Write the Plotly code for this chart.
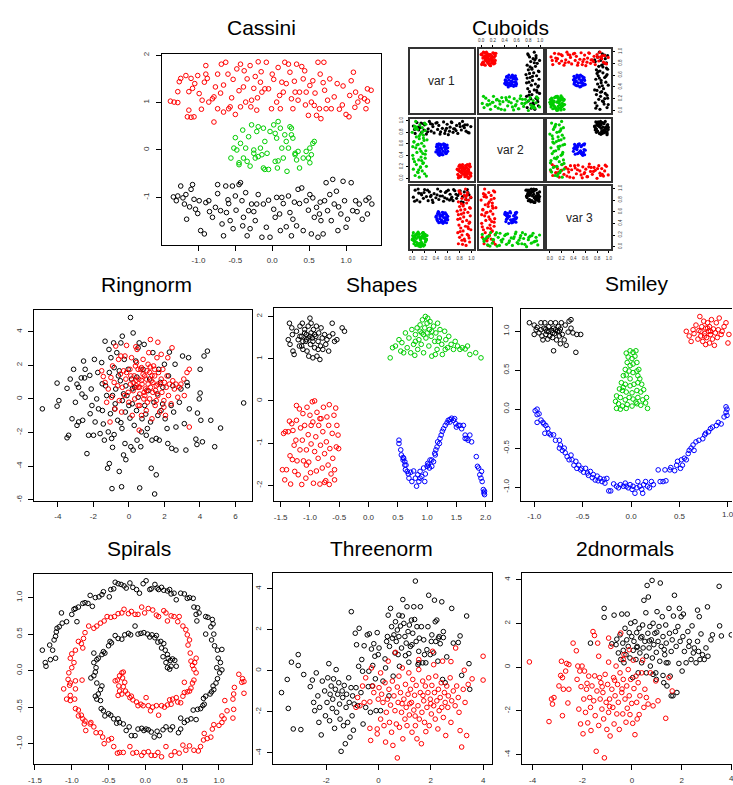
import plotly.graph_objects as go

W, H = 733, 785

# ----------------------------------------------------------------- data
cassini_black = [(-1.34,-0.99),(-1.30,-1.07),(-1.28,-0.97),(-1.24,-0.76),(-1.21,-1.01),(-1.19,-1.14),(-1.17,-0.94),(-1.16,-1.46),(-1.10,-0.83),(-1.08,-0.73),(-1.06,-1.04),(-1.04,-1.25),(-1.01,-1.34),(-0.99,-1.07),(-0.97,-1.70),(-0.92,-1.77),(-0.90,-1.11),(-0.86,-1.07),(-0.81,-1.42),(-0.77,-1.21),(-0.74,-0.73),(-0.74,-0.92),(-0.70,-1.28),(-0.68,-1.56),(-0.66,-1.81),(-0.63,-0.76),(-0.62,-1.32),(-0.59,-1.13),(-0.57,-1.49),(-0.54,-0.76),(-0.53,-1.66),(-0.50,-0.97),(-0.49,-1.27),(-0.45,-0.73),(-0.43,-0.69),(-0.41,-1.07),(-0.39,-1.42),(-0.36,-0.90),(-0.34,-1.81),(-0.32,-1.28),(-0.30,-1.66),(-0.28,-1.14),(-0.23,-1.49),(-0.21,-1.14),(-0.19,-0.94),(-0.14,-1.84),(-0.12,-1.14),(-0.08,-1.63),(-0.05,-1.06),(-0.03,-1.84),(0.02,-1.25),(0.04,-1.42),(0.06,-1.00),(0.11,-1.70),(0.13,-1.00),(0.15,-1.13),(0.19,-1.62),(0.22,-0.97),(0.24,-1.32),(0.26,-1.81),(0.28,-1.46),(0.33,-1.60),(0.35,-0.83),(0.37,-1.13),(0.40,-0.80),(0.42,-1.70),(0.46,-1.07),(0.49,-1.27),(0.51,-0.94),(0.53,-1.77),(0.55,-1.01),(0.57,-1.42),(0.60,-1.21),(0.62,-1.84),(0.64,-1.35),(0.66,-1.49),(0.69,-1.77),(0.71,-1.07),(0.73,-0.69),(0.75,-1.28),(0.78,-0.94),(0.80,-1.49),(0.82,-0.62),(0.84,-1.14),(0.87,-0.87),(0.89,-1.70),(0.93,-1.35),(0.96,-0.66),(0.98,-1.07),(1.00,-1.63),(1.02,-1.46),(1.07,-0.69),(1.09,-1.28),(1.13,-1.07),(1.18,-1.14),(1.22,-1.46),(1.27,-1.06),(1.29,-1.35),(1.31,-1.01),(1.35,-1.14),(-1.12,-1.20),(-0.85,-1.30),(-0.60,-1.05),(-0.25,-1.30),(0.10,-1.35),(0.30,-1.10),(0.65,-1.10),(0.90,-1.20),(1.15,-1.30),(-0.40,-1.60)]
cassini_red = [(-1.38,1.03),(-1.33,1.01),(-1.28,1.00),(-1.28,1.23),(-1.26,1.44),(-1.24,1.51),(-1.17,1.57),(-1.10,1.51),(-1.13,1.23),(-1.08,1.30),(-1.13,0.84),(-1.15,0.70),(-1.10,0.69),(-1.06,0.70),(-1.01,1.57),(-0.99,1.19),(-0.96,0.86),(-0.92,1.43),(-0.90,1.60),(-0.90,1.78),(-0.88,1.51),(-0.86,1.01),(-0.81,1.08),(-0.79,1.12),(-0.79,0.59),(-0.77,1.33),(-0.74,1.60),(-0.74,0.87),(-0.69,1.81),(-0.63,1.85),(-0.66,1.37),(-0.66,0.80),(-0.59,0.87),(-0.57,0.91),(-0.53,1.49),(-0.50,0.75),(-0.48,1.71),(-0.43,1.81),(-0.43,0.91),(-0.39,1.33),(-0.38,1.67),(-0.36,1.01),(-0.34,1.50),(-0.30,1.78),(-0.29,0.91),(-0.28,1.05),(-0.25,1.30),(-0.23,1.55),(-0.21,0.84),(-0.19,1.86),(-0.16,1.43),(-0.14,1.22),(-0.10,1.29),(-0.08,1.85),(-0.05,1.29),(-0.01,0.87),(0.02,1.49),(0.06,1.01),(0.08,1.74),(0.11,0.87),(0.13,1.43),(0.15,1.22),(0.17,1.85),(0.19,1.40),(0.22,1.81),(0.24,1.64),(0.26,1.08),(0.28,0.87),(0.31,1.22),(0.33,1.81),(0.37,1.22),(0.40,1.76),(0.42,1.50),(0.44,1.67),(0.46,1.22),(0.49,0.73),(0.51,1.36),(0.53,1.01),(0.55,1.46),(0.57,0.94),(0.60,0.73),(0.62,1.85),(0.64,0.87),(0.66,0.66),(0.69,1.42),(0.70,1.85),(0.71,1.26),(0.73,0.87),(0.78,1.50),(0.80,0.87),(0.84,1.12),(0.91,0.86),(0.96,1.35),(1.00,0.75),(1.04,0.70),(1.07,1.46),(1.10,1.64),(1.13,1.22),(1.16,1.01),(1.20,1.12),(1.25,1.08),(1.29,1.03),(1.27,0.87),(1.29,1.29),(1.34,1.26),(-1.05,1.40),(-0.95,1.05),(-0.70,1.20),(-0.60,1.60),(-0.45,1.25),(-0.20,1.10),(0.00,1.60),(0.10,1.15),(0.30,1.45),(0.45,0.95),(0.58,1.20),(0.65,1.60),(0.75,1.05),(0.88,1.40),(0.95,0.95),(1.05,1.15),(1.12,0.90),(0.35,1.05),(-0.15,1.65),(-0.55,1.10)]
cassini_green = [(-0.50,0.26),(-0.56,-0.17),(-0.52,0.04),(-0.48,0.00),(-0.43,0.14),(-0.40,0.42),(-0.39,-0.17),(-0.36,0.04),(-0.34,-0.24),(-0.32,0.28),(-0.30,-0.34),(-0.28,0.53),(-0.25,0.00),(-0.23,-0.17),(-0.21,0.39),(-0.19,0.49),(-0.16,0.04),(-0.14,-0.10),(-0.12,0.46),(-0.12,-0.38),(-0.10,0.18),(-0.07,-0.07),(-0.05,-0.41),(-0.03,0.39),(0.02,0.53),(0.04,-0.24),(0.06,0.25),(0.07,-0.38),(0.08,0.60),(0.11,0.46),(0.13,0.04),(0.15,-0.17),(0.17,0.32),(0.19,0.18),(0.20,-0.45),(0.22,0.04),(0.24,0.49),(0.26,0.32),(0.28,0.25),(0.31,-0.10),(0.33,-0.21),(0.35,-0.03),(0.37,-0.38),(0.42,-0.17),(0.46,-0.03),(0.49,-0.17),(0.51,0.04),(0.53,-0.10),(0.55,0.14),(0.57,0.18),(0.51,-0.27),(0.31,-0.07),(-0.25,-0.07),(-0.19,-0.14),(-0.10,-0.41),(0.26,0.46),(0.04,0.35),(0.08,-0.23),(-0.45,-0.27),(-0.45,-0.31)]

cub_black = [(0.02,0.91,0.85),(0.05,0.78,0.97),(0.08,0.97,0.80),(0.11,0.84,0.92),(0.13,0.88,0.77),(0.16,0.80,0.89),(0.19,0.95,0.83),(0.21,0.93,0.98),(0.24,0.77,0.86),(0.27,0.86,0.79),(0.29,0.99,0.94),(0.32,0.82,0.88),(0.35,0.90,0.76),(0.37,0.79,0.91),(0.40,0.96,0.84),(0.43,0.85,0.99),(0.45,0.92,0.81),(0.48,0.81,0.95),(0.51,0.87,0.87),(0.53,0.98,0.78),(0.56,0.83,0.93),(0.59,0.94,0.82),(0.61,0.76,0.97),(0.64,0.89,0.90),(0.67,0.97,0.85),(0.69,0.80,0.79),(0.72,0.86,0.96),(0.75,0.92,0.83),(0.77,0.78,0.88),(0.80,0.95,0.92),(0.83,0.84,0.77),(0.85,0.99,0.86),(0.88,0.88,0.94),(0.91,0.82,0.81),(0.93,0.93,0.98),(0.96,0.79,0.89),(0.99,0.90,0.84),(0.04,0.85,0.78),(0.15,0.96,0.91),(0.26,0.81,0.97),(0.34,0.94,0.80),(0.47,0.77,0.87),(0.58,0.87,0.95),(0.66,0.98,0.82),(0.74,0.83,0.90),(0.86,0.91,0.76),(0.94,0.80,0.93),(0.10,0.89,0.99),(0.31,0.95,0.86),(0.55,0.78,0.84),(0.70,0.86,0.98),(0.89,0.93,0.87),(0.20,0.84,0.93),(0.42,0.97,0.89),(0.63,0.82,0.80),(0.81,0.90,0.96)]
cub_red = [(0.91,0.12,0.02),(0.78,0.05,0.05),(0.97,0.21,0.08),(0.84,0.09,0.11),(0.88,0.17,0.13),(0.80,0.02,0.16),(0.95,0.14,0.19),(0.93,0.24,0.21),(0.77,0.07,0.24),(0.86,0.19,0.27),(0.99,0.04,0.29),(0.82,0.11,0.32),(0.90,0.22,0.35),(0.79,0.15,0.37),(0.96,0.01,0.40),(0.85,0.18,0.43),(0.92,0.08,0.45),(0.81,0.23,0.48),(0.87,0.13,0.51),(0.98,0.06,0.53),(0.83,0.20,0.56),(0.94,0.10,0.59),(0.76,0.16,0.61),(0.89,0.03,0.64),(0.97,0.25,0.67),(0.80,0.12,0.69),(0.86,0.07,0.72),(0.92,0.19,0.75),(0.78,0.14,0.77),(0.95,0.00,0.80),(0.84,0.22,0.83),(0.99,0.09,0.85),(0.88,0.17,0.88),(0.82,0.04,0.91),(0.93,0.13,0.93),(0.79,0.21,0.96),(0.90,0.06,0.99),(0.85,0.24,0.04),(0.96,0.11,0.15),(0.81,0.18,0.26),(0.94,0.02,0.34),(0.77,0.15,0.47),(0.87,0.08,0.58),(0.98,0.20,0.66),(0.83,0.12,0.74),(0.91,0.05,0.86),(0.80,0.23,0.94),(0.89,0.10,0.10),(0.95,0.16,0.31),(0.78,0.01,0.55),(0.86,0.19,0.70),(0.93,0.07,0.89),(0.84,0.14,0.20),(0.97,0.22,0.42),(0.82,0.03,0.63),(0.90,0.17,0.81)]
cub_green = [(0.12,0.02,0.21),(0.05,0.05,0.09),(0.21,0.08,0.14),(0.09,0.11,0.03),(0.17,0.13,0.18),(0.02,0.16,0.24),(0.14,0.19,0.06),(0.24,0.21,0.12),(0.07,0.24,0.20),(0.19,0.27,0.01),(0.04,0.29,0.16),(0.11,0.32,0.23),(0.22,0.35,0.08),(0.15,0.37,0.13),(0.01,0.40,0.19),(0.18,0.43,0.04),(0.08,0.45,0.22),(0.23,0.48,0.10),(0.13,0.51,0.15),(0.06,0.53,0.02),(0.20,0.56,0.17),(0.10,0.59,0.25),(0.16,0.61,0.07),(0.03,0.64,0.11),(0.25,0.67,0.19),(0.12,0.69,0.05),(0.07,0.72,0.14),(0.19,0.75,0.21),(0.14,0.77,0.00),(0.00,0.80,0.12),(0.22,0.83,0.18),(0.09,0.85,0.06),(0.17,0.88,0.23),(0.04,0.91,0.09),(0.13,0.93,0.16),(0.21,0.96,0.03),(0.06,0.99,0.20),(0.24,0.04,0.13),(0.11,0.15,0.01),(0.18,0.26,0.24),(0.02,0.34,0.11),(0.15,0.47,0.07),(0.08,0.58,0.22),(0.20,0.66,0.15),(0.12,0.74,0.04),(0.05,0.86,0.19),(0.23,0.94,0.10),(0.10,0.10,0.17),(0.16,0.31,0.02),(0.01,0.55,0.14),(0.19,0.70,0.24),(0.07,0.89,0.08),(0.14,0.20,0.12),(0.22,0.42,0.21),(0.03,0.63,0.05),(0.17,0.81,0.16)]
cub_blue = [(0.45,0.52,0.41),(0.58,0.44,0.55),(0.42,0.59,0.48),(0.51,0.41,0.59),(0.55,0.56,0.44),(0.47,0.48,0.52),(0.60,0.53,0.46),(0.43,0.45,0.57),(0.53,0.60,0.50),(0.49,0.42,0.43),(0.56,0.50,0.58),(0.41,0.55,0.53),(0.52,0.47,0.40),(0.59,0.58,0.49),(0.46,0.40,0.56),(0.54,0.54,0.42),(0.44,0.49,0.60),(0.57,0.43,0.47),(0.48,0.57,0.54),(0.50,0.51,0.45),(0.40,0.46,0.51),(0.55,0.59,0.57),(0.47,0.44,0.48),(0.58,0.52,0.41),(0.43,0.56,0.44),(0.52,0.41,0.55),(0.45,0.60,0.59),(0.60,0.47,0.52),(0.49,0.53,0.43),(0.56,0.45,0.50),(0.42,0.50,0.46),(0.53,0.58,0.58),(0.50,0.43,0.53),(0.57,0.55,0.47),(0.44,0.42,0.56),(0.48,0.59,0.42)]

ring_black = [(-4.87,-0.59),(-4.04,0.94),(-4.04,-0.43),(-3.94,-0.10),(-3.48,0.63),(-3.48,-2.31),(-3.39,-2.16),(-3.30,1.18),(-3.20,-1.18),(-3.11,1.76),(-3.01,-0.20),(-2.92,0.88),(-2.92,-1.57),(-2.83,0.69),(-2.83,-1.37),(-2.68,1.25),(-2.64,0.29),(-2.60,-1.27),(-2.55,2.25),(-2.49,1.25),(-2.46,1.76),(-2.46,0.10),(-2.36,-3.25),(-2.27,-2.16),(-2.18,-0.88),(-2.12,0.59),(-2.08,-0.39),(-1.99,-2.16),(-1.94,2.35),(-1.90,-1.37),(-1.81,0.00),(-1.75,1.57),(-1.71,-0.59),(-1.62,-2.06),(-1.53,2.16),(-1.49,-0.69),(-1.44,-1.49),(-1.38,-2.45),(-1.34,3.43),(-1.31,0.78),(-1.25,0.20),(-1.20,-4.12),(-1.16,-1.96),(-1.12,2.94),(-1.10,-3.84),(-1.10,1.57),(-1.04,-0.88),(-1.01,2.45),(-0.97,-2.35),(-0.95,-5.33),(-0.92,-2.88),(-0.92,0.20),(-0.86,3.33),(-0.83,1.86),(-0.83,-2.12),(-0.77,-0.29),(-0.74,0.59),(-0.68,2.75),(-0.63,-1.27),(-0.54,-4.31),(-0.54,1.67),(-0.48,1.08),(-0.45,3.33),(-0.45,-1.41),(-0.41,-5.22),(-0.39,-1.76),(-0.37,3.73),(-0.37,-0.10),(-0.30,-3.33),(-0.26,2.35),(-0.22,-2.65),(-0.20,-0.78),(-0.17,-3.61),(-0.17,0.78),(-0.11,0.20),(-0.04,1.76),(0.00,-0.39),(0.06,-1.14),(0.09,4.84),(0.11,-2.84),(0.15,1.18),(0.19,-0.29),(0.24,3.92),(0.24,-3.04),(0.30,-1.57),(0.33,0.69),(0.39,2.25),(0.43,-0.69),(0.46,-2.45),(0.52,3.04),(0.52,0.10),(0.58,3.33),(0.61,-5.29),(0.67,-2.84),(0.71,-1.96),(0.74,-1.18),(0.80,1.76),(0.86,3.24),(0.89,-0.39),(0.98,-2.16),(1.04,-1.76),(1.08,0.49),(1.17,1.18),(1.22,-1.37),(1.26,-4.12),(1.30,-2.45),(1.35,2.75),(1.41,-0.20),(1.45,-5.65),(1.54,-2.35),(1.54,-4.51),(1.63,-0.98),(1.68,1.76),(1.71,-2.45),(1.78,0.98),(1.81,-0.69),(1.91,0.69),(2.00,2.06),(2.04,-1.18),(2.15,-1.76),(2.19,-2.65),(2.23,1.37),(2.28,2.78),(2.38,-0.39),(2.41,-2.94),(2.47,0.78),(2.52,-0.78),(2.60,2.06),(2.65,-3.04),(2.65,-1.67),(2.84,-0.20),(2.93,0.59),(3.02,2.55),(3.12,-1.47),(3.21,-3.04),(3.27,0.98),(3.30,0.78),(3.36,2.45),(3.40,-0.59),(3.86,-0.84),(3.83,-2.71),(3.77,-2.39),(3.96,0.00),(4.01,1.76),(4.05,-1.27),(4.14,-2.55),(4.23,2.55),(4.42,2.84),(4.61,-1.27),(4.83,-2.84),(5.16,-1.73),(6.46,-0.24),(4.01,0.35),(-0.59,1.37),(-0.30,0.30),(0.45,1.30),(0.95,-0.90),(1.60,0.30),(-1.50,0.90),(-0.80,-0.60),(0.20,0.60),(1.90,-0.30),(-2.20,1.40)]
ring_red = [(-1.53,1.67),(-1.44,1.33),(-1.34,0.98),(-1.25,-0.20),(-1.16,0.59),(-1.06,-1.37),(-1.01,1.27),(-0.97,0.10),(-0.92,1.96),(-0.83,0.98),(-0.78,-0.59),(-0.74,3.14),(-0.63,0.78),(-0.58,2.35),(-0.54,-0.10),(-0.48,1.47),(-0.45,2.55),(-0.41,-0.78),(-0.37,0.69),(-0.30,1.67),(-0.26,0.20),(-0.22,2.55),(-0.17,1.18),(-0.13,3.18),(-0.04,0.39),(0.00,-0.20),(0.06,1.76),(0.09,0.88),(0.15,2.45),(0.19,-0.98),(0.24,0.49),(0.30,1.37),(0.33,0.00),(0.37,1.96),(0.43,0.78),(0.46,2.94),(0.52,-0.39),(0.56,1.18),(0.58,-1.86),(0.61,0.29),(0.67,1.76),(0.71,-0.98),(0.74,0.88),(0.80,2.35),(0.84,0.00),(0.89,1.37),(0.93,0.59),(0.98,-0.69),(1.02,1.67),(1.08,0.88),(1.12,2.75),(1.17,0.00),(1.21,3.53),(1.26,1.08),(1.30,-1.18),(1.35,0.39),(1.39,1.96),(1.45,1.37),(1.48,-0.39),(1.54,0.78),(1.58,2.45),(1.63,0.20),(1.67,1.57),(1.73,-0.78),(1.77,0.88),(1.82,2.65),(1.86,0.39),(1.91,1.76),(1.97,-0.10),(2.00,0.98),(2.06,-0.98),(2.10,0.69),(2.15,1.37),(2.19,2.45),(2.23,0.20),(2.28,0.88),(2.38,-0.29),(2.43,3.04),(2.47,1.08),(2.56,0.59),(2.65,0.88),(2.75,0.10),(2.84,0.69),(2.93,0.88),(3.09,1.18),(3.12,0.20),(3.27,1.57),(3.40,1.76),(3.40,-1.67),(1.63,3.37),(0.39,3.10),(0.52,1.76),(0.71,1.86),(0.80,1.47),(0.98,1.18),(1.17,1.57),(1.35,0.98),(0.52,0.69),(0.24,0.98),(-0.13,1.57),(0.86,0.39),(1.22,0.69),(1.63,0.88),(1.82,1.18),(1.45,1.76),(1.08,2.06),(0.43,2.16),(0.11,1.37),(0.61,-0.39),(1.04,-0.20),(1.54,-0.10),(1.97,-0.49),(0.70,1.10),(1.00,0.50),(1.30,1.40),(0.40,1.10),(0.90,0.20),(1.20,1.90),(0.60,0.70),(1.50,0.50)]

shapes_black = [(-1.35,1.84),(-1.37,1.45),(-1.34,1.34),(-1.31,1.73),(-1.30,1.57),(-1.29,1.18),(-1.27,1.10),(-1.23,1.65),(-1.20,1.45),(-1.18,1.30),(-1.17,1.77),(-1.14,1.53),(-1.13,1.84),(-1.12,1.22),(-1.09,1.69),(-1.07,1.41),(-1.06,1.57),(-1.05,1.18),(-1.03,1.77),(-1.02,1.06),(-1.00,1.96),(-0.99,1.34),(-0.98,1.61),(-0.98,1.84),(-0.96,1.49),(-0.95,1.02),(-0.94,1.69),(-0.92,1.26),(-0.90,1.53),(-0.89,1.77),(-0.88,1.06),(-0.86,1.41),(-0.85,1.61),(-0.83,0.98),(-0.82,1.30),(-0.81,1.73),(-0.79,1.49),(-0.78,1.22),(-0.75,1.57),(-0.73,1.34),(-0.71,1.45),(-0.68,1.18),(-0.67,1.53),(-0.62,1.84),(-0.61,1.59),(-0.58,1.41),(-0.54,1.45),(-0.45,1.73),(-0.41,1.65),(-1.06,1.45),(-1.12,1.41),(-1.03,1.49),(-0.95,1.41),(-1.00,1.53),(-1.09,1.61),(-0.92,1.57),(-1.14,1.30),(-0.86,1.22),(-1.17,1.53)]
shapes_red = [(-1.47,-1.63),(-1.45,-0.77),(-1.43,-1.87),(-1.42,-0.73),(-1.40,-1.63),(-1.37,-0.73),(-1.35,-0.48),(-1.34,-1.30),(-1.33,-1.97),(-1.31,-0.54),(-1.30,-1.39),(-1.29,-0.70),(-1.27,-1.05),(-1.26,-1.67),(-1.24,-0.93),(-1.23,-0.11),(-1.22,-1.42),(-1.20,-1.75),(-1.18,-0.19),(-1.17,-1.16),(-1.16,-0.64),(-1.14,-1.98),(-1.13,-0.93),(-1.12,-0.30),(-1.11,-1.42),(-1.09,-0.58),(-1.07,-1.83),(-1.06,-1.16),(-1.05,-0.15),(-1.03,-0.80),(-1.02,-1.45),(-1.00,-0.34),(-0.99,-1.70),(-0.98,-1.02),(-0.96,-0.02),(-0.95,-0.50),(-0.94,-1.95),(-0.92,-1.20),(-0.90,-0.85),(-0.89,-1.66),(-0.88,-0.27),(-0.86,-1.36),(-0.85,-0.58),(-0.83,-1.97),(-0.82,-1.05),(-0.81,-0.42),(-0.79,-1.59),(-0.78,-0.73),(-0.77,-0.15),(-0.75,-1.25),(-0.73,-1.89),(-0.72,-0.97),(-0.71,-0.38),(-0.69,-1.52),(-0.68,-0.58),(-0.67,-0.09),(-0.66,-1.13),(-0.64,-1.73),(-0.62,-0.77),(-0.61,-1.36),(-0.59,-0.34),(-0.58,-1.63),(-0.56,-0.17),(-0.55,-1.09),(-0.54,-0.58),(-0.52,-0.81),(-0.51,-1.13),(-0.58,-1.87),(-0.67,-1.98),(-0.83,-0.42),(-0.98,-0.58),(-1.23,-0.46),(-1.06,-1.52),(-0.92,0.00),(-0.75,-1.93)]
shapes_green = [(0.37,1.02),(0.41,1.26),(0.46,1.30),(0.52,1.45),(0.55,1.18),(0.57,1.38),(0.60,1.14),(0.63,1.61),(0.66,1.26),(0.69,1.49),(0.72,1.14),(0.74,1.69),(0.77,1.34),(0.79,1.08),(0.80,1.57),(0.83,1.73),(0.84,1.22),(0.86,1.45),(0.88,1.80),(0.90,1.34),(0.91,1.61),(0.92,1.92),(0.94,1.14),(0.96,1.73),(0.97,2.00),(0.98,1.49),(1.00,1.84),(1.01,1.96),(1.03,1.30),(1.04,1.69),(1.05,1.88),(1.07,1.53),(1.08,1.06),(1.11,1.77),(1.13,1.41),(1.15,1.61),(1.17,1.22),(1.18,1.84),(1.21,1.49),(1.22,1.69),(1.25,1.34),(1.26,1.10),(1.30,1.65),(1.32,1.45),(1.35,1.26),(1.37,1.53),(1.41,1.34),(1.45,1.22),(1.48,1.41),(1.52,1.30),(1.56,1.22),(1.60,1.26),(1.65,1.23),(1.69,1.30),(1.73,1.10),(1.83,1.14),(1.92,1.02),(1.08,1.65),(0.94,1.57),(0.88,1.65),(1.00,1.61),(0.80,1.41),(1.19,1.41),(1.31,1.22),(1.14,1.10)]
shapes_blue = [(0.52,-0.93),(0.52,-1.01),(0.55,-1.16),(0.56,-1.28),(0.59,-1.40),(0.60,-1.36),(0.62,-1.44),(0.63,-1.63),(0.64,-1.52),(0.68,-1.73),(0.69,-1.83),(0.72,-1.69),(0.74,-1.91),(0.77,-1.66),(0.80,-1.83),(0.82,-2.02),(0.84,-1.75),(0.86,-1.91),(0.88,-1.67),(0.91,-1.79),(0.94,-1.59),(0.96,-1.91),(0.97,-1.73),(1.00,-1.55),(1.01,-1.48),(1.04,-1.59),(1.05,-1.40),(1.08,-1.55),(1.11,-1.44),(1.13,-1.24),(1.15,-1.16),(1.17,-1.09),(1.18,-0.97),(1.21,-1.01),(1.22,-0.89),(1.24,-0.81),(1.26,-0.72),(1.28,-0.66),(1.31,-0.58),(1.34,-0.52),(1.36,-0.46),(1.39,-0.44),(1.42,-0.41),(1.45,-0.46),(1.47,-0.42),(1.49,-0.54),(1.50,-0.62),(1.53,-0.58),(1.56,-0.58),(1.59,-0.66),(1.62,-0.58),(1.65,-0.81),(1.68,-0.89),(1.70,-0.93),(1.73,-0.81),(1.76,-0.97),(1.84,-1.32),(1.86,-1.55),(1.88,-1.59),(1.90,-1.75),(1.92,-1.83),(1.93,-1.67),(1.94,-1.91),(1.96,-2.10),(1.97,-2.18),(1.98,-2.14),(1.98,-2.22),(0.66,-1.67),(0.88,-1.83),(1.02,-1.52),(1.14,-1.28),(1.08,-1.40),(1.39,-0.50),(1.65,-0.89),(0.59,-1.34),(0.62,-1.52)]

smiley_black = [(-1.05,1.11),(-1.00,1.08),(-0.98,1.02),(-1.00,0.96),(-0.97,1.05),(-0.95,0.98),(-0.93,1.11),(-0.92,0.94),(-0.91,0.89),(-0.90,1.04),(-0.89,1.11),(-0.88,0.96),(-0.87,1.00),(-0.86,0.90),(-0.85,1.06),(-0.84,0.94),(-0.83,1.11),(-0.82,1.01),(-0.81,0.92),(-0.80,0.75),(-0.80,1.04),(-0.79,0.97),(-0.78,1.11),(-0.77,0.89),(-0.76,1.00),(-0.75,1.06),(-0.74,0.94),(-0.73,0.84),(-0.73,1.03),(-0.72,1.11),(-0.71,0.96),(-0.69,0.89),(-0.68,1.08),(-0.67,0.82),(-0.65,0.99),(-0.64,1.13),(-0.62,1.04),(-0.60,0.98),(-0.57,0.73),(-0.56,0.96),(-0.52,0.96),(-0.62,1.15),(-0.81,0.98),(-0.78,1.02),(-0.85,1.00),(-0.74,1.00),(-0.88,1.03),(-0.93,1.02)]
smiley_red = [(0.57,1.00),(0.60,0.94),(0.62,0.87),(0.64,1.02),(0.65,0.97),(0.67,1.08),(0.69,0.90),(0.70,1.01),(0.71,1.19),(0.72,0.94),(0.73,1.06),(0.74,0.87),(0.75,1.13),(0.76,0.97),(0.77,1.04),(0.77,0.83),(0.78,0.92),(0.79,1.11),(0.80,1.00),(0.81,0.85),(0.81,1.06),(0.82,0.96),(0.83,1.15),(0.84,0.90),(0.85,1.03),(0.86,0.82),(0.87,0.98),(0.88,1.11),(0.89,0.92),(0.90,1.02),(0.91,1.17),(0.93,0.96),(0.94,1.00),(0.96,1.06),(0.98,1.11),(1.00,0.85),(1.01,0.96),(0.79,1.04),(0.76,0.94),(0.82,1.00),(0.72,1.00)]
smiley_green = [(-0.05,0.72),(-0.01,0.75),(0.02,0.73),(0.05,0.75),(-0.03,0.67),(0.01,0.65),(0.04,0.68),(-0.04,0.60),(-0.01,0.56),(0.02,0.58),(0.06,0.60),(-0.06,0.51),(-0.02,0.49),(0.02,0.47),(0.06,0.49),(0.08,0.51),(-0.08,0.43),(-0.05,0.44),(0.07,0.43),(0.09,0.39),(-0.10,0.34),(-0.06,0.32),(-0.01,0.30),(0.03,0.32),(0.07,0.34),(0.11,0.32),(-0.12,0.26),(-0.09,0.24),(-0.05,0.22),(0.01,0.21),(0.06,0.24),(0.10,0.22),(0.13,0.25),(-0.15,0.17),(-0.11,0.15),(-0.06,0.12),(-0.02,0.15),(0.02,0.13),(0.07,0.15),(0.12,0.12),(0.16,0.15),(-0.16,0.10),(-0.13,0.07),(-0.09,0.04),(-0.04,0.06),(0.01,0.04),(0.06,0.07),(0.10,0.05),(0.15,0.08),(-0.15,0.01),(-0.11,0.00),(-0.05,0.01),(0.17,0.01),(-0.01,0.39),(-0.08,0.28),(0.05,0.09)]
smiley_blue = [(-0.99,-0.02),(-0.97,0.00),(-0.97,-0.07),(-0.95,-0.06),(-0.97,-0.17),(-0.93,-0.14),(-0.91,-0.17),(-0.90,-0.19),(-0.88,-0.21),(-0.86,-0.25),(-0.89,-0.31),(-0.85,-0.31),(-0.83,-0.33),(-0.80,-0.33),(-0.78,-0.40),(-0.74,-0.40),(-0.73,-0.46),(-0.74,-0.50),(-0.71,-0.53),(-0.69,-0.50),(-0.68,-0.56),(-0.66,-0.61),(-0.64,-0.65),(-0.62,-0.59),(-0.61,-0.65),(-0.59,-0.72),(-0.57,-0.67),(-0.56,-0.76),(-0.54,-0.72),(-0.52,-0.78),(-0.51,-0.76),(-0.49,-0.81),(-0.47,-0.76),(-0.45,-0.82),(-0.44,-0.85),(-0.42,-0.80),(-0.40,-0.88),(-0.39,-0.84),(-0.37,-0.91),(-0.35,-0.86),(-0.34,-0.92),(-0.32,-0.89),(-0.30,-0.93),(-0.28,-0.90),(-0.27,-0.95),(-0.25,-0.89),(-0.23,-1.05),(-0.21,-1.05),(-0.18,-0.96),(-0.15,-0.99),(-0.13,-1.01),(-0.11,-0.97),(-0.08,-0.99),(-0.06,-0.95),(-0.05,-0.99),(-0.03,-1.01),(-0.01,-0.97),(0.01,-1.03),(0.02,-0.99),(0.04,-1.08),(0.06,-1.01),(0.07,-0.93),(0.09,-0.99),(0.11,-1.03),(0.12,-1.08),(0.13,-0.97),(0.15,-0.93),(0.17,-0.99),(0.19,-1.01),(0.21,-0.93),(0.23,-0.97),(0.28,-0.78),(0.30,-0.93),(0.33,-0.93),(0.36,-0.92),(0.35,-0.78),(0.40,-0.78),(0.41,-0.75),(0.45,-0.79),(0.47,-0.72),(0.48,-0.67),(0.51,-0.76),(0.52,-0.65),(0.53,-0.72),(0.55,-0.63),(0.57,-0.65),(0.59,-0.57),(0.60,-0.53),(0.62,-0.50),(0.64,-0.46),(0.65,-0.53),(0.67,-0.42),(0.70,-0.40),(0.74,-0.38),(0.76,-0.33),(0.77,-0.31),(0.80,-0.29),(0.82,-0.25),(0.84,-0.23),(0.88,-0.21),(0.90,-0.17),(0.93,-0.19),(0.96,-0.10),(0.98,-0.04),(0.98,0.03),(0.99,-0.08),(0.99,0.00)]

spiral_black = [(-1.40,0.28),(-1.36,0.11),(-1.35,0.06),(-1.29,0.15),(-1.30,0.35),(-1.26,0.28),(-1.24,0.42),(-1.22,0.47),(-1.21,0.53),(-1.20,0.58),(-1.22,0.17),(-1.17,0.60),(-1.14,0.79),(-1.13,0.65),(-1.07,0.67),(-1.00,0.77),(-0.97,0.84),(-0.95,0.85),(-0.91,0.87),(-0.93,0.67),(-0.85,0.92),(-0.82,0.93),(-0.78,0.92),(-0.72,0.88),(-0.75,1.03),(-0.68,1.00),(-0.63,1.01),(-0.59,1.04),(-0.57,1.08),(-0.49,1.01),(-0.47,1.11),(-0.43,1.12),(-0.41,1.21),(-0.37,1.19),(-0.33,1.18),(-0.29,1.16),(-0.26,1.13),(-0.21,1.20),(-0.17,1.14),(-0.12,1.11),(-0.08,1.06),(-0.03,1.19),(0.01,1.23),(0.06,1.11),(0.08,1.12),(0.13,1.18),(0.16,1.13),(0.18,1.11),(0.22,1.14),(0.25,1.10),(0.30,1.09),(0.33,1.11),(0.35,1.05),(0.39,1.06),(0.42,0.97),(0.48,1.06),(0.53,1.05),(0.57,0.99),(0.60,1.00),(0.65,0.99),(0.66,0.87),(0.69,0.77),(0.71,0.86),(0.73,0.79),(0.70,0.68),(0.82,0.74),(0.85,0.73),(0.89,0.60),(0.91,0.70),(0.92,0.64),(0.93,0.50),(0.90,0.42),(0.82,0.50),(0.94,0.34),(0.98,0.28),(1.04,0.29),(0.99,0.17),(1.02,0.11),(0.97,0.04),(1.04,0.01),(1.01,-0.03),(0.98,-0.11),(0.96,-0.17),(0.92,-0.21),(0.93,-0.26),(0.90,-0.29),(0.88,-0.32),(0.82,-0.35),(0.79,-0.38),(0.80,-0.46),(0.78,-0.48),(0.75,-0.52),(0.71,-0.53),(0.65,-0.54),(0.69,-0.67),(0.62,-0.66),(0.57,-0.68),(0.53,-0.71),(0.48,-0.65),(0.48,-0.80),(0.45,-0.85),(0.37,-0.77),(0.34,-0.81),(0.28,-0.77),(0.24,-0.81),(0.19,-0.89),(0.16,-0.83),(0.12,-0.91),(0.08,-0.84),(0.04,-0.81),(0.01,-0.80),(-0.02,-0.82),(-0.05,-0.79),(-0.10,-0.80),(-0.14,-0.89),(-0.19,-0.89),(-0.22,-0.77),(-0.26,-0.82),(-0.30,-0.73),(-0.35,-0.71),(-0.37,-0.66),(-0.39,-0.72),(-0.43,-0.66),(-0.47,-0.61),(-0.50,-0.59),(-0.55,-0.62),(-0.57,-0.55),(-0.60,-0.52),(-0.61,-0.41),(-0.66,-0.39),(-0.68,-0.35),(-0.64,-0.32),(-0.61,-0.26),(-0.59,-0.21),(-0.66,-0.17),(-0.70,-0.07),(-0.68,-0.02),(-0.67,0.04),(-0.74,-0.10),(-0.70,0.11),(-0.66,0.15),(-0.64,0.17),(-0.70,0.24),(-0.59,0.22),(-0.57,0.26),(-0.55,0.24),(-0.50,0.34),(-0.48,0.40),(-0.46,0.38),(-0.41,0.48),(-0.37,0.44),(-0.32,0.43),(-0.28,0.49),(-0.23,0.51),(-0.20,0.49),(-0.14,0.61),(-0.10,0.50),(-0.06,0.51),(-0.02,0.52),(0.03,0.50),(0.06,0.46),(0.09,0.49),(0.13,0.45),(0.15,0.48),(0.17,0.39),(0.21,0.40),(0.22,0.31),(0.25,0.37),(0.27,0.28),(0.30,0.22),(0.31,0.17),(0.34,0.14),(0.28,0.11),(0.30,0.04),(0.33,0.02),(0.37,0.16),(0.40,0.14),(0.42,0.06),(0.35,0.06),(0.24,0.19)]
spiral_red = [(-0.41,-0.14),(-0.38,-0.13),(-0.35,-0.07),(-0.32,-0.03),(-0.30,-0.02),(-0.31,-0.10),(-0.36,-0.21),(-0.35,-0.28),(-0.32,-0.32),(-0.37,-0.34),(-0.30,-0.22),(-0.28,-0.16),(-0.27,-0.28),(-0.24,-0.32),(-0.21,-0.37),(-0.19,-0.35),(-0.17,-0.40),(-0.12,-0.43),(-0.10,-0.48),(-0.06,-0.46),(-0.03,-0.48),(0.01,-0.37),(0.04,-0.48),(0.07,-0.55),(0.10,-0.50),(0.15,-0.48),(0.18,-0.61),(0.22,-0.48),(0.26,-0.50),(0.30,-0.47),(0.33,-0.40),(0.35,-0.46),(0.37,-0.39),(0.42,-0.37),(0.44,-0.43),(0.48,-0.44),(0.51,-0.35),(0.53,-0.30),(0.57,-0.29),(0.60,-0.28),(0.53,-0.16),(0.62,-0.24),(0.64,-0.17),(0.66,-0.13),(0.69,-0.03),(0.66,0.02),(0.67,0.11),(0.64,0.07),(0.62,0.13),(0.69,0.17),(0.61,0.24),(0.58,0.35),(0.60,0.42),(0.57,0.49),(0.55,0.56),(0.51,0.61),(0.44,0.67),(0.46,0.74),(0.39,0.74),(0.35,0.75),(0.30,0.68),(0.28,0.79),(0.25,0.82),(0.18,0.74),(0.15,0.76),(0.10,0.83),(0.04,0.85),(-0.01,0.79),(-0.05,0.87),(-0.10,0.77),(-0.14,0.77),(-0.19,0.81),(-0.23,0.78),(-0.29,0.84),(-0.32,0.79),(-0.37,0.78),(-0.42,0.74),(-0.47,0.73),(-0.52,0.74),(-0.56,0.68),(-0.61,0.65),(-0.66,0.61),(-0.70,0.58),(-0.77,0.61),(-0.82,0.52),(-0.84,0.44),(-0.87,0.37),(-0.85,0.31),(-0.91,0.40),(-0.95,0.28),(-1.00,0.23),(-1.02,0.17),(-0.97,0.11),(-1.00,0.04),(-1.04,-0.03),(-1.05,-0.12),(-1.02,-0.17),(-0.95,-0.14),(-1.11,-0.25),(-1.02,-0.34),(-0.96,-0.39),(-1.02,-0.41),(-0.95,-0.52),(-0.91,-0.54),(-0.87,-0.61),(-0.85,-0.66),(-0.82,-0.69),(-0.83,-0.73),(-0.81,-0.82),(-0.75,-0.73),(-0.70,-0.77),(-0.67,-0.85),(-0.61,-0.85),(-0.58,-0.91),(-0.56,-1.00),(-0.50,-0.95),(-0.46,-0.93),(-0.43,-1.04),(-0.38,-1.13),(-0.35,-1.12),(-0.30,-1.12),(-0.21,-1.04),(-0.17,-1.13),(-0.12,-1.12),(-0.05,-1.16),(-0.02,-1.12),(0.04,-1.11),(0.08,-1.16),(0.13,-1.16),(0.17,-1.12),(0.22,-1.18),(0.28,-1.04),(0.35,-1.16),(0.40,-1.11),(0.46,-1.13),(0.51,-1.02),(0.55,-1.09),(0.60,-1.03),(0.66,-1.09),(0.72,-1.10),(0.75,-1.04),(0.79,-0.95),(0.80,-0.86),(0.84,-0.93),(0.89,-0.91),(0.91,-0.80),(0.93,-0.74),(1.00,-0.75),(1.04,-0.71),(1.04,-0.62),(1.07,-0.66),(1.08,-0.41),(1.11,-0.55),(1.19,-0.65),(1.20,-0.53),(1.19,-0.39),(1.20,-0.32),(1.21,-0.23),(1.27,-0.05),(1.31,-0.16),(1.32,-0.11),(1.34,-0.31),(1.34,-0.15),(-0.95,-0.25),(-1.07,-0.39),(-0.91,-0.62),(-0.74,-0.71),(-0.86,-0.13),(-1.03,-0.20)]

three_black = [(-3.71,-1.06),(-3.49,-0.42),(-3.45,-1.83),(-3.33,0.42),(-3.26,-2.83),(-3.07,0.79),(-3.07,0.26),(-2.97,-2.86),(-2.86,-0.18),(-2.61,-0.77),(-2.53,-0.45),(-2.48,-1.54),(-2.44,-1.94),(-2.38,-0.10),(-2.32,-1.22),(-2.28,-2.51),(-2.25,-1.78),(-2.19,-3.12),(-2.15,-0.50),(-2.06,-0.98),(-2.03,-2.19),(-1.97,-1.54),(-1.94,-0.34),(-1.90,0.35),(-1.87,-2.43),(-1.85,-1.14),(-1.81,-0.74),(-1.77,-1.83),(-1.75,-1.38),(-1.72,-0.39),(-1.68,-2.80),(-1.65,-0.90),(-1.62,0.06),(-1.60,-2.02),(-1.56,-1.14),(-1.52,-0.58),(-1.49,-1.62),(-1.47,-2.35),(-1.43,-3.92),(-1.39,-0.98),(-1.37,-1.30),(-1.34,-2.67),(-1.31,-0.71),(-1.27,-3.55),(-1.24,-1.78),(-1.22,-1.14),(-1.18,-2.51),(-1.14,-0.34),(-1.12,-1.54),(-1.09,-3.23),(-1.05,-0.82),(-1.04,2.88),(-1.01,-2.19),(-0.99,-1.22),(-0.96,-2.89),(-0.93,-1.62),(-0.89,1.83),(-0.86,-0.82),(-0.84,1.27),(-0.80,-1.70),(-0.76,0.22),(-0.74,2.07),(-0.67,-1.06),(-0.64,0.55),(-0.61,-0.02),(-0.59,-2.59),(-0.55,1.22),(-0.49,-1.78),(-0.43,1.75),(-0.39,-0.77),(-0.37,-0.02),(-0.35,1.80),(-0.31,-2.02),(-0.27,1.06),(-0.24,-0.74),(-0.22,0.26),(-0.18,1.32),(-0.14,0.71),(-0.12,-0.39),(-0.09,-1.94),(-0.05,1.86),(-0.01,0.79),(0.02,1.11),(0.08,-1.94),(0.17,-0.50),(0.25,0.58),(0.27,0.14),(0.31,1.43),(0.34,1.67),(0.37,2.71),(0.40,-1.22),(0.42,1.19),(0.46,3.04),(0.50,2.15),(0.53,1.59),(0.56,-0.26),(0.59,1.75),(0.63,0.87),(0.65,2.39),(0.68,1.43),(0.72,1.99),(0.75,0.79),(0.78,2.71),(0.80,0.22),(0.84,2.18),(0.88,1.11),(0.91,2.67),(0.93,3.47),(0.97,2.31),(1.01,1.67),(1.03,0.74),(1.06,1.35),(1.09,3.12),(1.13,1.91),(1.16,0.84),(1.18,2.23),(1.22,1.19),(1.26,2.47),(1.28,1.27),(1.31,1.83),(1.35,3.12),(1.38,2.50),(1.41,4.37),(1.44,1.43),(1.47,2.15),(1.51,0.30),(1.54,0.95),(1.56,1.59),(1.60,3.12),(1.64,2.15),(1.69,0.39),(1.73,1.51),(1.76,0.79),(1.81,0.39),(1.85,1.03),(1.89,2.15),(1.92,3.68),(1.98,0.79),(2.02,1.43),(2.04,1.75),(2.11,0.87),(2.14,3.44),(2.17,2.39),(2.19,1.43),(2.23,2.47),(2.27,0.47),(2.32,1.67),(2.36,1.32),(2.42,3.36),(2.45,-0.42),(2.48,1.91),(2.55,-0.58),(2.61,0.68),(2.80,3.04),(2.86,1.35),(3.05,1.38),(3.12,1.70),(3.18,-0.22),(3.37,2.67),(3.46,0.35),(3.49,-0.90),(2.48,1.62),(2.29,1.59),(1.16,0.42),(1.54,0.39),(0.78,1.67)]
three_red = [(-0.86,-1.78),(-0.80,-1.30),(-0.71,-1.70),(-0.61,-0.74),(-0.55,-1.54),(-0.49,-0.34),(-0.33,-2.80),(-0.33,-1.51),(-0.30,-3.39),(-0.27,0.14),(-0.22,-0.74),(-0.18,-1.06),(-0.05,-2.83),(-0.05,-3.07),(-0.01,-1.38),(0.02,-0.82),(0.08,-0.10),(0.08,-2.35),(0.12,-1.14),(0.17,-1.54),(0.21,-2.67),(0.25,-0.58),(0.27,-3.47),(0.30,-2.02),(0.34,-1.38),(0.37,0.47),(0.40,-0.90),(0.42,-2.51),(0.46,-1.67),(0.50,-2.99),(0.53,-0.50),(0.55,-3.63),(0.59,-1.22),(0.63,-1.94),(0.65,0.90),(0.68,-2.59),(0.72,-0.79),(0.72,-4.24),(0.75,-1.54),(0.78,-0.26),(0.80,-2.75),(0.84,-1.06),(0.88,-2.02),(0.91,0.14),(0.93,-3.31),(0.97,-1.38),(1.01,-2.35),(1.03,-0.66),(1.06,-1.78),(1.09,-2.67),(1.13,-1.14),(1.16,-0.10),(1.18,-2.15),(1.22,-0.90),(1.26,-1.54),(1.28,-2.99),(1.31,-0.42),(1.35,-1.91),(1.38,-1.19),(1.41,-2.67),(1.44,-0.71),(1.47,-3.31),(1.51,-1.70),(1.54,0.06),(1.56,-2.35),(1.60,-1.06),(1.64,-3.55),(1.66,-2.02),(1.69,-0.50),(1.73,-1.46),(1.76,-2.51),(1.79,-0.74),(1.81,-2.96),(1.85,-1.78),(1.89,-1.06),(1.92,-0.34),(1.94,-2.67),(1.98,-1.38),(2.02,-2.10),(2.04,-0.71),(2.07,0.95),(2.11,-1.70),(2.14,-1.06),(2.17,-2.35),(2.19,-0.26),(2.23,-1.46),(2.27,-2.83),(2.29,-0.90),(2.32,-1.94),(2.36,-1.30),(2.40,-0.58),(2.42,-1.78),(2.45,0.47),(2.48,-2.27),(2.52,-1.06),(2.55,-1.54),(2.57,-3.15),(2.61,-0.74),(2.65,-1.78),(2.67,-1.22),(2.74,-0.34),(2.77,-2.51),(2.80,-1.46),(2.86,-0.98),(2.93,-1.70),(2.95,1.11),(2.99,-0.74),(3.05,-1.30),(3.08,-2.02),(3.12,-2.91),(3.18,-3.71),(3.24,-0.90),(3.28,0.03),(3.31,-1.54),(3.37,-3.15),(3.43,-0.66),(3.58,-0.39),(4.00,0.71),(4.00,-0.45),(2.77,0.45),(2.11,0.30),(1.54,0.55),(1.20,-1.60),(1.70,-1.20),(2.00,-1.60),(0.90,-1.60),(1.40,-2.20)]

dn_black = [(-1.67,1.10),(-1.12,2.69),(-1.12,2.28),(-0.81,1.07),(-0.72,2.38),(-0.64,1.03),(-0.61,1.28),(-0.55,0.65),(-0.48,1.48),(-0.45,0.35),(-0.41,2.43),(-0.37,1.10),(-0.35,0.77),(-0.32,0.20),(-0.28,1.78),(-0.24,0.57),(-0.21,1.25),(-0.19,2.43),(-0.15,0.95),(-0.11,1.58),(-0.08,0.42),(-0.05,2.01),(-0.01,1.40),(0.03,-0.48),(0.05,0.77),(0.08,1.18),(0.12,2.08),(0.16,0.35),(0.19,1.58),(0.21,0.95),(0.25,-0.26),(0.29,1.78),(0.32,0.65),(0.35,1.34),(0.39,0.20),(0.43,1.93),(0.45,0.88),(0.48,3.06),(0.52,1.18),(0.56,2.49),(0.58,0.50),(0.61,3.74),(0.64,1.55),(0.66,3.21),(0.69,0.88),(0.72,1.86),(0.74,0.05),(0.78,1.25),(0.81,3.97),(0.82,0.42),(0.85,2.01),(0.88,1.03),(0.92,1.55),(0.96,-0.26),(0.98,0.68),(1.01,2.54),(1.05,1.18),(1.09,1.86),(1.12,0.27),(1.14,3.85),(1.18,0.95),(1.22,2.31),(1.25,1.40),(1.28,-0.71),(1.32,0.57),(1.36,1.93),(1.38,1.10),(1.41,-0.86),(1.45,0.20),(1.49,2.69),(1.51,1.55),(1.54,-0.41),(1.58,0.72),(1.62,1.25),(1.65,-1.31),(1.67,2.34),(1.71,3.29),(1.75,1.63),(1.78,0.95),(1.81,-1.16),(1.85,1.86),(1.89,0.17),(1.91,2.69),(1.94,1.18),(1.98,2.31),(2.02,-0.18),(2.05,1.40),(2.07,2.43),(2.11,0.72),(2.18,0.20),(2.25,1.63),(2.29,0.95),(2.31,1.18),(2.38,0.35),(2.42,1.89),(2.47,0.65),(2.51,0.88),(2.58,0.20),(2.64,2.61),(2.64,1.18),(2.68,0.72),(2.71,2.31),(2.74,0.35),(2.78,1.52),(2.84,0.57),(2.91,0.35),(2.98,0.88),(3.04,2.76),(3.06,0.50),(3.18,1.25),(3.24,1.48),(3.51,3.70),(3.53,1.89),(3.60,1.43),(4.00,1.48),(1.38,0.20),(1.25,-0.38),(0.85,-0.33),(0.58,-0.26),(0.98,-0.56),(1.58,-1.31),(0.40,1.40),(0.70,1.20),(1.00,1.60),(0.20,0.90),(1.30,0.80)]
dn_red = [(-4.13,0.24),(-3.34,-2.49),(-3.24,-1.46),(-3.20,-1.69),(-3.14,-1.39),(-2.94,-0.86),(-2.87,-0.38),(-2.84,0.27),(-2.80,-0.48),(-2.80,-2.22),(-2.76,-1.01),(-2.67,-0.18),(-2.63,0.17),(-2.58,-1.64),(-2.54,0.12),(-2.54,-1.01),(-2.37,1.10),(-2.24,0.75),(-2.21,-0.56),(-2.18,0.05),(-2.14,-1.92),(-2.10,-0.18),(-2.07,-2.60),(-2.05,-0.89),(-2.01,0.05),(-1.97,-3.05),(-1.94,-1.46),(-1.91,-0.18),(-1.87,-2.07),(-1.83,-1.01),(-1.81,-0.74),(-1.78,-2.55),(-1.74,-0.41),(-1.70,-1.39),(-1.67,-1.84),(-1.65,-2.90),(-1.61,-0.86),(-1.57,1.63),(-1.54,-1.54),(-1.51,1.45),(-1.48,-2.22),(-1.44,-3.85),(-1.41,-1.09),(-1.38,1.10),(-1.34,-2.67),(-1.34,0.50),(-1.30,-0.48),(-1.28,-1.46),(-1.25,-0.71),(-1.21,-1.92),(-1.17,-1.16),(-1.14,-2.37),(-1.11,-4.15),(-1.08,-0.33),(-1.04,-1.61),(-1.01,-2.85),(-0.98,-0.79),(-0.94,0.23),(-0.94,-2.07),(-0.90,-1.46),(-0.88,-3.15),(-0.85,0.95),(-0.81,-1.01),(-0.77,-1.84),(-0.74,-0.48),(-0.72,-2.60),(-0.68,-1.31),(-0.64,0.05),(-0.61,-2.14),(-0.58,-0.79),(-0.55,-1.61),(-0.51,-2.85),(-0.48,-0.26),(-0.45,1.56),(-0.41,-1.16),(-0.37,-2.14),(-0.35,-0.56),(-0.32,0.57),(-0.28,-1.46),(-0.24,-2.52),(-0.21,-0.86),(-0.19,-1.88),(-0.15,-0.11),(-0.11,-1.31),(-0.08,-2.17),(-0.05,-0.56),(-0.01,-1.66),(0.03,-2.57),(0.05,0.32),(0.08,-0.98),(0.12,-3.09),(0.16,-0.41),(0.19,-1.61),(0.21,-2.37),(0.25,-0.71),(0.29,-2.17),(0.32,-1.31),(0.39,-0.26),(0.43,0.32),(0.48,-1.84),(0.52,-1.01),(0.58,-1.39),(0.65,-1.69),(0.74,-0.26),(0.85,-1.77),(0.96,-0.63),(1.05,-1.54),(1.36,-2.34),(1.49,-0.48),(1.62,-1.09),(-0.11,0.80),(-0.35,0.35),(-0.94,1.33),(-1.20,-0.90),(-0.70,-0.60),(-1.50,-0.40),(-0.90,-1.80),(-0.40,-1.00)]

# ----------------------------------------------------------------- figure
BLACK, RED, GREEN, BLUE = "#000000", "#FF0000", "#00CD00", "#0000FF"
FONT = "Liberation Sans"

fig = go.Figure()
n_axes = [0]


def lin(a, pa, b, pb, p):
    return a + (b - a) * (p - pa) / (pb - pa)


def new_axes(box, xr, yr, xcfg, ycfg):
    n_axes[0] += 1
    n = n_axes[0]
    s = "" if n == 1 else str(n)
    L, T, R, B = box
    xa = dict(domain=[L / W, min(R, W) / W], range=xr, anchor="y" + s, **xcfg)
    ya = dict(domain=[1 - B / H, 1 - T / H], range=yr, anchor="x" + s, **ycfg)
    fig.update_layout(**{"xaxis" + s: xa, "yaxis" + s: ya})
    return "x" + s, "y" + s


def base_axis(size=8, ticklen=5, lw=1, lc="black"):
    return dict(showgrid=False, zeroline=False, showline=True, linecolor=lc,
                linewidth=lw, ticks="outside", ticklen=ticklen, tickwidth=1,
                tickcolor="black", ticklabelstandoff=3, ticklabeloverflow="allow",
                tickfont=dict(size=size, color="#333333", family=FONT))


def add_points(xa, ya, pts, color, size=4.6, open_=True):
    xs = [p[0] for p in pts]
    ys = [p[1] for p in pts]
    fig.add_trace(go.Scatter(
        x=xs, y=ys, mode="markers", xaxis=xa, yaxis=ya, showlegend=False,
        hoverinfo="skip",
        marker=dict(symbol="circle-open" if open_ else "circle", size=size,
                    color=color, line=dict(width=1 if open_ else 0, color=color))))


def title(text, cx, cy):
    fig.add_annotation(text=text, x=cx / W, y=1 - cy / H, xref="paper", yref="paper",
                       showarrow=False, xanchor="center", yanchor="middle",
                       font=dict(size=21, family=FONT, color="black"))


def main_panel(box, xt, yt, xticks, xlabels, yticks, ylabels, series, mirror_y=True,
               edge_label=None):
    L, T, R, B = box
    xr = [lin(*xt, L), lin(*xt, R)]
    yr = [lin(*yt, B), lin(*yt, T)]
    xlabels = list(xlabels)
    if edge_label is not None:
        # last tick label sits on the page edge: draw it as a plain text label
        xlabels[-1] = ""
    xc = base_axis()
    xc.update(mirror=True, tickvals=xticks, ticktext=xlabels)
    yc = base_axis()
    yc.update(mirror=mirror_y, tickvals=yticks, ticktext=ylabels, tickangle=-90)
    xa, ya = new_axes(box, xr, yr, xc, yc)
    for pts, col in series:
        add_points(xa, ya, pts, col)
    if edge_label is not None:
        fig.add_annotation(text=edge_label, x=xticks[-1], xref=xa, y=1 - (B + 14.5) / H,
                           yref="paper", showarrow=False, xanchor="center",
                           yanchor="middle",
                           font=dict(size=8, color="#333333", family=FONT))


def lbl(vals, fmt):
    return [fmt.format(v) for v in vals]


# Cassini
main_panel((157, 52, 379, 244), (-1.0, 194.3, 1.0, 343.3), (2.0, 52.7, -2.0, 244.3),
           [-1, -0.5, 0, 0.5, 1], lbl([-1, -0.5, 0, 0.5, 1], "{:.1f}"),
           [-2, -1, 0, 1, 2], lbl([-2, -1, 0, 1, 2], "{:d}"),
           [(cassini_black, BLACK), (cassini_red, RED), (cassini_green, GREEN)])
title("Cassini", 258, 25)

# Ringnorm
main_panel((28.3, 310, 248.3, 502.7), (-4, 52.3, 6, 231.7), (4, 332, -6, 502),
           [-4, -2, 0, 2, 4, 6], lbl([-4, -2, 0, 2, 4, 6], "{:d}"),
           [-6, -4, -2, 0, 2, 4], lbl([-6, -4, -2, 0, 2, 4], "{:d}"),
           [(ring_black, BLACK), (ring_red, RED)])
title("Ringnorm", 141.7, 284)

# Shapes
sx = [-1.5, -1.0, -0.5, 0.0, 0.5, 1.0, 1.5, 2.0]
main_panel((270.7, 308.3, 490.7, 503.3), (-1.5, 277.3, 2.0, 484.3), (2, 316.7, -2, 487.3),
           sx, lbl(sx, "{:.1f}"), [-2, -1, 0, 1, 2], lbl([-2, -1, 0, 1, 2], "{:d}"),
           [(shapes_black, BLACK), (shapes_red, RED), (shapes_green, GREEN), (shapes_blue, BLUE)])
title("Shapes", 379.3, 284)

# Smiley
smt = [-1.0, -0.5, 0.0, 0.5, 1.0]
main_panel((520, 309.3, 733, 502.7), (-1.0, 533.3, 0.5, 680), (1.0, 331.7, -1.0, 489),
           smt, lbl(smt, "{:.1f}"), smt, lbl(smt, "{:.1f}"),
           [(smiley_black, BLACK), (smiley_red, RED), (smiley_green, GREEN), (smiley_blue, BLUE)],
           mirror_y=False, edge_label="1.0")
title("Smiley", 637, 283)

# Spirals
spx = [-1.5, -1.0, -0.5, 0.0, 0.5, 1.0]
spy = [-1.0, -0.5, 0.0, 0.5, 1.0]
main_panel((28.3, 576.7, 248.3, 769.3), (0.0, 140.7, 1.0, 215), (1.0, 600.7, -1.0, 748.3),
           spx, lbl(spx, "{:.1f}"), spy, lbl(spy, "{:.1f}"),
           [(spiral_black, BLACK), (spiral_red, RED)])
title("Spirals", 134, 550.7)

# Threenorm
main_panel((270, 576, 490.7, 769.3), (-2, 323.3, 4, 481.7), (4, 591.7, -4, 757.7),
           [-2, 0, 2, 4], lbl([-2, 0, 2, 4], "{:d}"),
           [-4, -2, 0, 2, 4], lbl([-4, -2, 0, 2, 4], "{:d}"),
           [(three_black, BLACK), (three_red, RED)])
title("Threenorm", 379, 550.7)

# 2dnormals
main_panel((520.7, 576, 733, 769.3), (-4, 531.7, 4, 732.3), (4, 582.7, -4, 759.3),
           [-4, -2, 0, 2, 4], lbl([-4, -2, 0, 2, 4], "{:d}"),
           [-4, -2, 0, 2, 4], lbl([-4, -2, 0, 2, 4], "{:d}"),
           [(dn_black, BLACK), (dn_red, RED)], mirror_y=False, edge_label="4")
title("2dnormals", 625, 550.7)

# Cuboids pairs plot
cols = [(407.7, 472.3), (477.3, 541.7), (546.7, 611.0)]
rows = [(46.7, 111.0), (116.7, 179.5), (185.0, 248.5)]
cub_ticks = [0, 0.2, 0.4, 0.6, 0.8, 1.0]
cub_lbls = lbl(cub_ticks, "{:.1f}")
cub_series = [(cub_black, BLACK), (cub_red, RED), (cub_green, GREEN), (cub_blue, BLUE)]
for i in range(3):
    for j in range(3):
        box = (cols[j][0], rows[i][0], cols[j][1], rows[i][1])
        xc = base_axis(size=4.5, ticklen=2.5, lw=1.5, lc="#333333")
        yc = base_axis(size=4.5, ticklen=2.5, lw=1.5, lc="#333333")
        xc.update(mirror=True, tickvals=cub_ticks, ticktext=cub_lbls, ticklabelstandoff=1)
        yc.update(mirror=True, tickvals=cub_ticks, ticktext=cub_lbls, tickangle=-90,
                  ticklabelstandoff=1)
        show_x = (i == 0 and j == 1) or (i == 2 and j in (0, 2))
        show_y = (j == 0 and i == 1) or (j == 2 and i in (0, 2))
        if show_x:
            xc.update(side="top" if i == 0 else "bottom")
        else:
            xc.update(ticks="", showticklabels=False)
        if show_y:
            yc.update(side="right" if j == 2 else "left")
        else:
            yc.update(ticks="", showticklabels=False)
        xa, ya = new_axes(box, [-0.04, 1.04], [-0.04, 1.04], xc, yc)
        if i == j:
            fig.add_annotation(text="var %d" % (i + 1), x=0.5, y=0.5, xref=xa, yref=ya,
                               showarrow=False, font=dict(size=12, family=FONT, color="#222"))
        else:
            for pts, col in cub_series:
                add_points(xa, ya, [(p[j], p[i]) for p in pts], col, size=3.2, open_=False)
title("Cuboids", 509, 25)

fig.update_layout(width=W, height=H, autosize=False, margin=dict(l=0, r=0, t=0, b=0),
                  paper_bgcolor="white", plot_bgcolor="white", showlegend=False)
fig.write_html("out.html", config={"displayModeBar": False},
               post_script="document.body.style.margin='0';document.body.style.overflow='hidden';")
